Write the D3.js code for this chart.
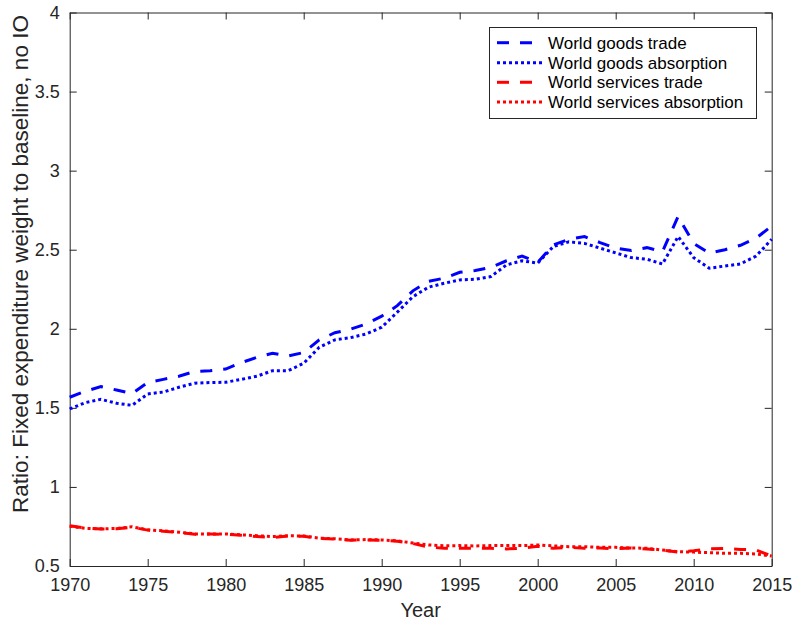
<!DOCTYPE html>
<html>
<head>
<meta charset="utf-8">
<script src="https://cdn.jsdelivr.net/npm/d3@7"></script>
<style>
  html, body { margin: 0; padding: 0; background: #fff; }
  svg { display: block; font-family: "Liberation Sans", Arial, Helvetica, sans-serif; }
</style>
</head>
<body>
<svg id="chart" width="796" height="627"></svg>
<script>
const years = d3.range(1970, 2016);
const goodsTrade = [1.567,1.605,1.634,1.613,1.59,1.66,1.68,1.70,1.73,1.735,1.745,1.786,1.82,1.845,1.828,1.85,1.93,1.975,1.997,2.03,2.08,2.146,2.24,2.30,2.32,2.357,2.368,2.389,2.43,2.46,2.42,2.53,2.566,2.583,2.545,2.51,2.495,2.513,2.488,2.71,2.54,2.478,2.50,2.528,2.573,2.65];
const goodsAbsorption = [1.493,1.533,1.554,1.529,1.516,1.588,1.60,1.63,1.656,1.66,1.662,1.68,1.70,1.735,1.735,1.782,1.883,1.93,1.944,1.967,2.01,2.105,2.203,2.263,2.288,2.309,2.313,2.33,2.404,2.43,2.415,2.52,2.55,2.54,2.51,2.48,2.45,2.44,2.41,2.583,2.45,2.383,2.397,2.41,2.46,2.566];
const servicesTrade = [0.755,0.740,0.734,0.735,0.745,0.727,0.720,0.712,0.701,0.702,0.701,0.694,0.686,0.680,0.690,0.688,0.674,0.670,0.663,0.665,0.663,0.657,0.642,0.620,0.612,0.612,0.612,0.612,0.608,0.612,0.625,0.612,0.618,0.612,0.614,0.609,0.614,0.607,0.601,0.588,0.597,0.609,0.611,0.605,0.601,0.563];
const servicesAbsorption = [0.752,0.738,0.735,0.737,0.748,0.729,0.722,0.714,0.703,0.703,0.703,0.697,0.692,0.686,0.691,0.690,0.676,0.672,0.665,0.667,0.665,0.659,0.645,0.633,0.628,0.629,0.627,0.629,0.629,0.629,0.633,0.627,0.622,0.622,0.618,0.618,0.614,0.612,0.601,0.590,0.588,0.584,0.580,0.580,0.576,0.563];

const seriesNames = ["World goods trade","World goods absorption","World services trade","World services absorption"];
const xTicks = [1970,1975,1980,1985,1990,1995,2000,2005,2010,2015];
const yTicks = [0.5,1,1.5,2,2.5,3,3.5,4];
const xLabel = "Year";
const yLabel = "Ratio: Fixed expenditure weight to baseline, no IO";

const series = [
  {name: seriesNames[0], values: goodsTrade, color: "#0000ff", dash: "12,11"},
  {name: seriesNames[1], values: goodsAbsorption, color: "#0000ff", dash: "3,3"},
  {name: seriesNames[2], values: servicesTrade, color: "#ff0000", dash: "12,11"},
  {name: seriesNames[3], values: servicesAbsorption, color: "#ff0000", dash: "3,3"}
];

const svg = d3.select("#chart");
const L = 69.7, R = 771.7, T = 12.5, B = 566;
const x = d3.scaleLinear().domain([1970, 2015]).range([L, R]);
const y = d3.scaleLinear().domain([0.5, 4]).range([B, T]);
const axisColor = "#262626";
const tickLen = 7;

const gx = svg.append("g").attr("transform", `translate(0,${B})`)
  .call(d3.axisBottom(x).tickValues(xTicks).tickFormat(d3.format("d")).tickSizeInner(-tickLen).tickSizeOuter(0).tickPadding(12));
const gxTop = svg.append("g").attr("transform", `translate(0,${T})`)
  .call(d3.axisTop(x).tickValues(xTicks).tickFormat("").tickSizeInner(-tickLen).tickSizeOuter(0));
const gy = svg.append("g").attr("transform", `translate(${L},0)`)
  .call(d3.axisLeft(y).tickValues(yTicks).tickFormat(d => d).tickSizeInner(-tickLen).tickSizeOuter(0).tickPadding(10));
const gyR = svg.append("g").attr("transform", `translate(${R},0)`)
  .call(d3.axisRight(y).tickValues(yTicks).tickFormat("").tickSizeInner(-tickLen).tickSizeOuter(0));

[gx, gxTop, gy, gyR].forEach(g => {
  g.selectAll("path.domain").attr("stroke", axisColor).attr("stroke-width", 1);
  g.selectAll(".tick line").attr("stroke", axisColor).attr("stroke-width", 1);
  g.selectAll(".tick text").attr("fill", axisColor).attr("font-size", 18)
    .attr("font-family", '"Liberation Sans", Arial, sans-serif');
});
gx.selectAll(".tick text").attr("dy", "0.71em");

const line = d3.line().x((d, i) => x(years[i])).y(d => y(d));
series.forEach(s => {
  svg.append("path")
    .datum(s.values)
    .attr("fill", "none")
    .attr("stroke", s.color)
    .attr("stroke-width", 3)
    .attr("stroke-dasharray", s.dash)
    .attr("d", line);
});

svg.append("text").attr("x", (L + R) / 2).attr("y", 617)
  .attr("text-anchor", "middle").attr("font-size", 20).attr("fill", axisColor).text(xLabel);
svg.append("text").attr("transform", `translate(28,264) rotate(-90)`)
  .attr("text-anchor", "middle").attr("font-size", 22.5).attr("fill", axisColor).text(yLabel);

const lg = svg.append("g");
lg.append("rect").attr("x", 489.5).attr("y", 27.5).attr("width", 267).attr("height", 91)
  .attr("fill", "#fff").attr("stroke", axisColor).attr("stroke-width", 1);
const rowY = [42.7, 62.7, 82.3, 102];
series.forEach((s, i) => {
  lg.append("line").attr("x1", 497).attr("x2", 542).attr("y1", rowY[i]).attr("y2", rowY[i])
    .attr("stroke", s.color).attr("stroke-width", 3).attr("stroke-dasharray", s.dash);
  lg.append("text").attr("x", 548).attr("y", rowY[i]).attr("dy", "0.35em")
    .attr("font-size", 17).attr("fill", "#000").text(s.name);
});
</script>
</body>
</html>
